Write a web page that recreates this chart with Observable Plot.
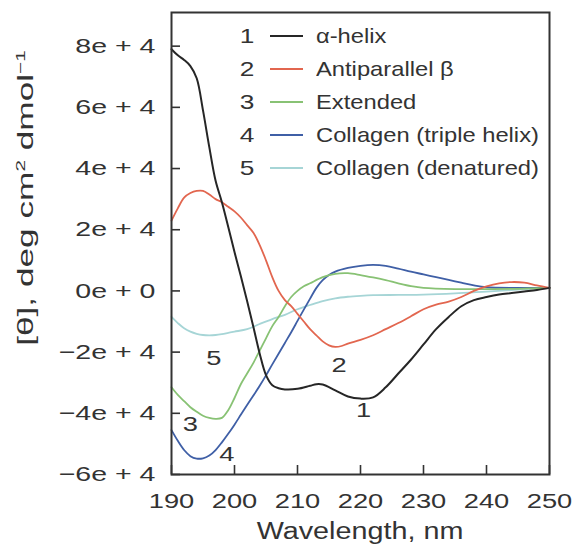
<!DOCTYPE html>
<html>
<head>
<meta charset="utf-8">
<script src="https://cdn.jsdelivr.net/npm/d3@7"></script>
<script src="https://cdn.jsdelivr.net/npm/@observablehq/plot@0.6"></script>
<style>
  html, body { margin: 0; padding: 0; background: #fff; }
  #wrap { position: relative; width: 576px; height: 544px; font-family: "Liberation Sans", Arial, sans-serif; color: #333; }
  #ylab { position: absolute; left: 26px; top: 198px; transform: translate(-50%, -50%) rotate(-90deg) scaleX(1.6); white-space: nowrap; font-size: 22px; }
  #xlab { position: absolute; left: 360px; top: 531px; transform: translate(-50%, -50%) scaleX(1.25); white-space: nowrap; font-size: 23px; }
  #legend { position: absolute; left: 236px; top: 19px; font-size: 21px; }
  .row { display: flex; align-items: center; height: 33px; }
  .num { width: 22px; text-align: center; display: inline-block; transform: scaleX(1.25); }
  .swatch { width: 33px; height: 0; border-top: 2.5px solid; margin-left: 12px; margin-right: 13px; }
  .name { display: inline-block; transform: scaleX(1.13); transform-origin: left center; white-space: nowrap; }
</style>
</head>
<body>
<div id="wrap"></div>
<script>
// Wavelength (nm), mean residue ellipticity (deg cm2 dmol-1)
const alphaHelix = [
  [190,79000],[191,77000],[192,75500],[193,73500],[194,69500],[195,59000],[196,47000],[197,36000],
  [198,29000],[199,21000],[200,12700],[201,4900],[202,-3300],[203,-11800],[204,-20500],[205,-27500],
  [206,-30800],[207,-31800],[208,-32200],[210,-32000],[212,-31000],[213,-30500],[214,-30600],
  [216,-32500],[218,-34500],[220,-35200],[222,-34800],[224,-31500],[226,-27000],[228,-22500],
  [230,-17500],[232,-12500],[234,-8500],[236,-5000],[238,-3000],[240,-2000],[242,-1200],
  [244,-700],[246,-200],[248,300],[250,1000]
];
const antiparallelBeta = [
  [190,23000],[191,27000],[192,30500],[193,32000],[194,32700],[195,32700],[196,31500],[197,30000],
  [198,29000],[199,27500],[200,26000],[201,24000],[202,21500],[203,19000],[204,15000],[205,10000],
  [206,4500],[207,0],[208,-3000],[209,-5000],[210,-7500],[211,-10000],[212,-12500],[213,-14500],
  [214,-16500],[215,-17800],[216,-18300],[217,-18000],[218,-17200],[220,-16000],[222,-14500],
  [224,-12500],[226,-10500],[228,-8300],[230,-6000],[232,-4500],[234,-3500],[236,-2000],[238,0],
  [240,1500],[242,2500],[244,2900],[246,2700],[248,1800],[250,1000]
];
const extended = [
  [190,-31500],[191,-34000],[192,-36000],[193,-38000],[194,-39500],[195,-40800],[196,-41500],
  [197,-41800],[198,-41500],[199,-39000],[200,-35000],[201,-30500],[202,-27000],[203,-23500],
  [204,-19500],[205,-15500],[206,-11500],[207,-8500],[208,-5000],[209,-2000],[210,0],[211,1500],
  [212,2500],[214,4500],[216,5600],[218,5800],[220,5200],[222,4400],[224,3500],[226,2500],
  [228,1600],[230,1000],[235,600],[240,600],[245,700],[250,1000]
];
const collagenTriple = [
  [190,-45500],[191,-49000],[192,-52000],[193,-54000],[194,-54800],[195,-54700],[196,-53800],
  [197,-52000],[198,-49500],[199,-46700],[200,-43700],[201,-40500],[202,-37300],[203,-34200],
  [204,-31000],[205,-27600],[206,-24000],[208,-17000],[209,-13500],[210,-9800],[211,-6100],
  [212,-2500],[213,1000],[214,3500],[215,5200],[216,6300],[218,7500],[220,8200],[222,8500],
  [224,8200],[226,7300],[228,6300],[230,5400],[232,4500],[234,3600],[236,2700],[238,1800],
  [240,1200],[245,1000],[250,1000]
];
const collagenDenatured = [
  [190,-8500],[191,-10500],[192,-12200],[193,-13300],[194,-14000],[195,-14400],[196,-14500],
  [197,-14400],[198,-14100],[199,-13700],[200,-13300],[202,-12500],[204,-10800],[206,-9200],
  [208,-7800],[210,-6000],[212,-4600],[214,-3300],[216,-2400],[218,-1900],[220,-1600],[222,-1400],
  [226,-1300],[230,-1200],[235,-800],[240,-200],[245,400],[250,1000]
];

const seriesNames = ["α-helix", "Antiparallel β", "Extended", "Collagen (triple helix)", "Collagen (denatured)"];
const seriesData = [alphaHelix, antiparallelBeta, extended, collagenTriple, collagenDenatured];
const seriesColors = ["#262626", "#e2664f", "#88c274", "#3f5fa6", "#a6d5d6"];
const seriesWidths = [2, 1.8, 1.8, 1.8, 1.8];

// curve number annotations: [label, wavelength, value]
const curveLabels = [
  ["1", 220.5, -38900],
  ["2", 216.6, -24200],
  ["3", 193.0, -43500],
  ["4", 198.8, -53300],
  ["5", 196.7, -22000]
];

const xTicks = [190, 200, 210, 220, 230, 240, 250];
const yTicks = [-60000, -40000, -20000, 0, 20000, 40000, 60000, 80000];
const yTickLabels = ["−6e + 4", "−4e + 4", "−2e + 4", "0e + 0", "2e + 4", "4e + 4", "6e + 4", "8e + 4"];

const rows = [];
seriesData.forEach((arr, i) => arr.forEach(([x, y]) => rows.push({series: i, x, y})));
const labelRows = curveLabels.map(([t, x, y]) => ({t, x, y}));

const W = 576, H = 544, ML = 171, MR = 27, MT = 12, MB = 70;
const TICK = 9;

const lineMarks = seriesData.map((arr, i) =>
  Plot.line(rows.filter(d => d.series === i), {
    x: "x", y: "y", stroke: seriesColors[i], strokeWidth: seriesWidths[i], curve: "catmull-rom"
  })
);

const chart = Plot.plot({
  width: W,
  height: H,
  marginLeft: ML,
  marginRight: MR,
  marginTop: MT,
  marginBottom: MB,
  style: {fontFamily: "Liberation Sans, Arial, sans-serif", color: "#333", background: "#fff"},
  x: {domain: [190, 250]},
  y: {domain: [-60000, 91000]},
  marks: [
    ...lineMarks.slice().reverse(),
    Plot.text(labelRows, {x: "x", y: "y", text: "t", fontSize: 21, fill: "#333"}),
    // inward tick marks
    Plot.gridX(xTicks, {stroke: "#333", strokeOpacity: 1, strokeWidth: 1.6, insetTop: (H - MT - MB) - TICK}),
    Plot.gridY(yTicks, {stroke: "#333", strokeOpacity: 1, strokeWidth: 1.6, insetRight: (W - ML - MR) - TICK}),
    Plot.axisX({ticks: xTicks, tickSize: 0, tickPadding: 19, fontSize: 21, label: null, tickFormat: d => String(d)}),
    Plot.axisY({ticks: yTicks, tickSize: 0, tickPadding: 16, fontSize: 21, label: null,
      tickFormat: d => yTickLabels[yTicks.indexOf(d)]}),
    Plot.frame({stroke: "#333", strokeWidth: 2})
  ]
});

// widen glyphs horizontally like the reference rendering (scale about each text's anchor)
chart.querySelectorAll("text").forEach(t => {
  const g = t.closest("g[aria-label]");
  const lab = g ? g.getAttribute("aria-label") : "";
  const sx = lab.startsWith("y-axis") ? 1.36 : 1.3;
  const tr = t.getAttribute("transform");
  if (tr) t.setAttribute("transform", tr + ` scale(${sx},1)`);
});

const wrap = document.getElementById("wrap");
wrap.appendChild(chart);

const ylab = document.createElement("div");
ylab.id = "ylab";
ylab.innerHTML = "[θ], deg cm<sup style='font-size:13px'>2</sup> dmol<sup style='font-size:13px'>−1</sup>";
wrap.appendChild(ylab);

const xlab = document.createElement("div");
xlab.id = "xlab";
xlab.textContent = "Wavelength, nm";
wrap.appendChild(xlab);

const legend = document.createElement("div");
legend.id = "legend";
seriesNames.forEach((name, i) => {
  const r = document.createElement("div");
  r.className = "row";
  r.innerHTML = `<span class="num">${i + 1}</span><span class="swatch" style="border-color:${seriesColors[i]}"></span><span class="name">${name}</span>`;
  legend.appendChild(r);
});
wrap.appendChild(legend);
</script>
</body>
</html>
